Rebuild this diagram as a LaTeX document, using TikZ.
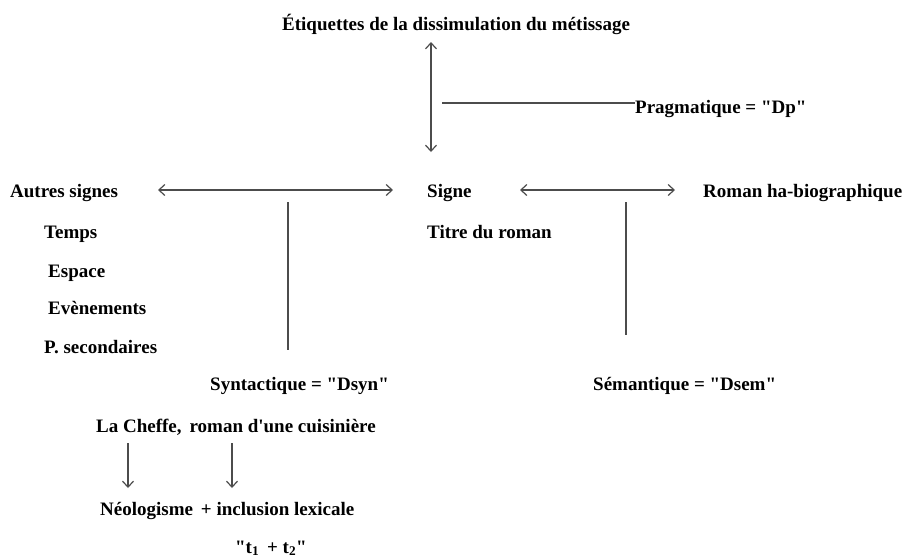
\documentclass[tikz,border=0pt]{standalone}
\usepackage{fontspec}
\newfontfamily\libserif{Liberation Serif}
\usetikzlibrary{arrows.meta}
\begin{document}
\begin{tikzpicture}[x=1pt,y=-1pt,
  lab/.style={anchor=base west,inner sep=0pt,font=\libserif\fontsize{19}{22}\selectfont\bfseries},
  conn/.style={draw=black!70,line width=1.2pt},
  tip/.style={-{Straight Barb[length=6pt,width=11pt]}},
  tips/.style={{Straight Barb[length=6pt,width=11pt]}-{Straight Barb[length=6pt,width=11pt]}}]
\useasboundingbox (0,0) rectangle (906,558);
% texts
\node[lab] (title) at (282,30) {Étiquettes de la dissimulation du métissage};
\node[lab] (prag) at (635,113) {Pragmatique = "Dp"};
\node[lab] (autres) at (10,197) {Autres signes};
\node[lab] (signe) at (427,197) {Signe};
\node[lab] (roman) at (703,197) {Roman ha-biographique};
\node[lab] (temps) at (44,238) {Temps};
\node[lab] (titre) at (427,238) {Titre du roman};
\node[lab] (espace) at (48,277) {Espace};
\node[lab] (even) at (48,314) {Evènements};
\node[lab] (psec) at (44,353) {P. secondaires};
\node[lab] (syn) at (210,390) {Syntactique = "Dsyn"};
\node[lab] (sem) at (593,390) {Sémantique = "Dsem"};
\node[lab] (cheffe) at (96,432) {La Cheffe,\, roman d'une cuisinière};
\node[lab] (neo) at (100,515) {Néologisme \,+ inclusion lexicale};
\node[lab] (tt) at (235,553) {"t\textsubscript{1} \,+ t\textsubscript{2}"};
% coordinates
\coordinate (vtop) at (431,42);
\coordinate (vbot) at (431,152);
\coordinate (hstart) at (442,103);
\coordinate (a1l) at (158,190);
\coordinate (a1r) at (393,190);
\coordinate (a2l) at (520,190);
\coordinate (a2r) at (675,190);
\coordinate (l1t) at (288,202);
\coordinate (l1b) at (288,350);
\coordinate (l2t) at (626,202);
\coordinate (l2b) at (626,335);
\coordinate (d1t) at (128,443);
\coordinate (d1b) at (128,488);
\coordinate (d2t) at (232,443);
\coordinate (d2b) at (232,488);
% connectors
\draw[conn,tips] (vtop) -- (vbot);
\draw[conn] (hstart) -- (prag.west |- hstart);
\draw[conn,tips] (a1l) -- (a1r);
\draw[conn,tips] (a2l) -- (a2r);
\draw[conn] (l1t) -- (l1b);
\draw[conn] (l2t) -- (l2b);
\draw[conn,tip] (d1t) -- (d1b);
\draw[conn,tip] (d2t) -- (d2b);
\end{tikzpicture}
\end{document}
